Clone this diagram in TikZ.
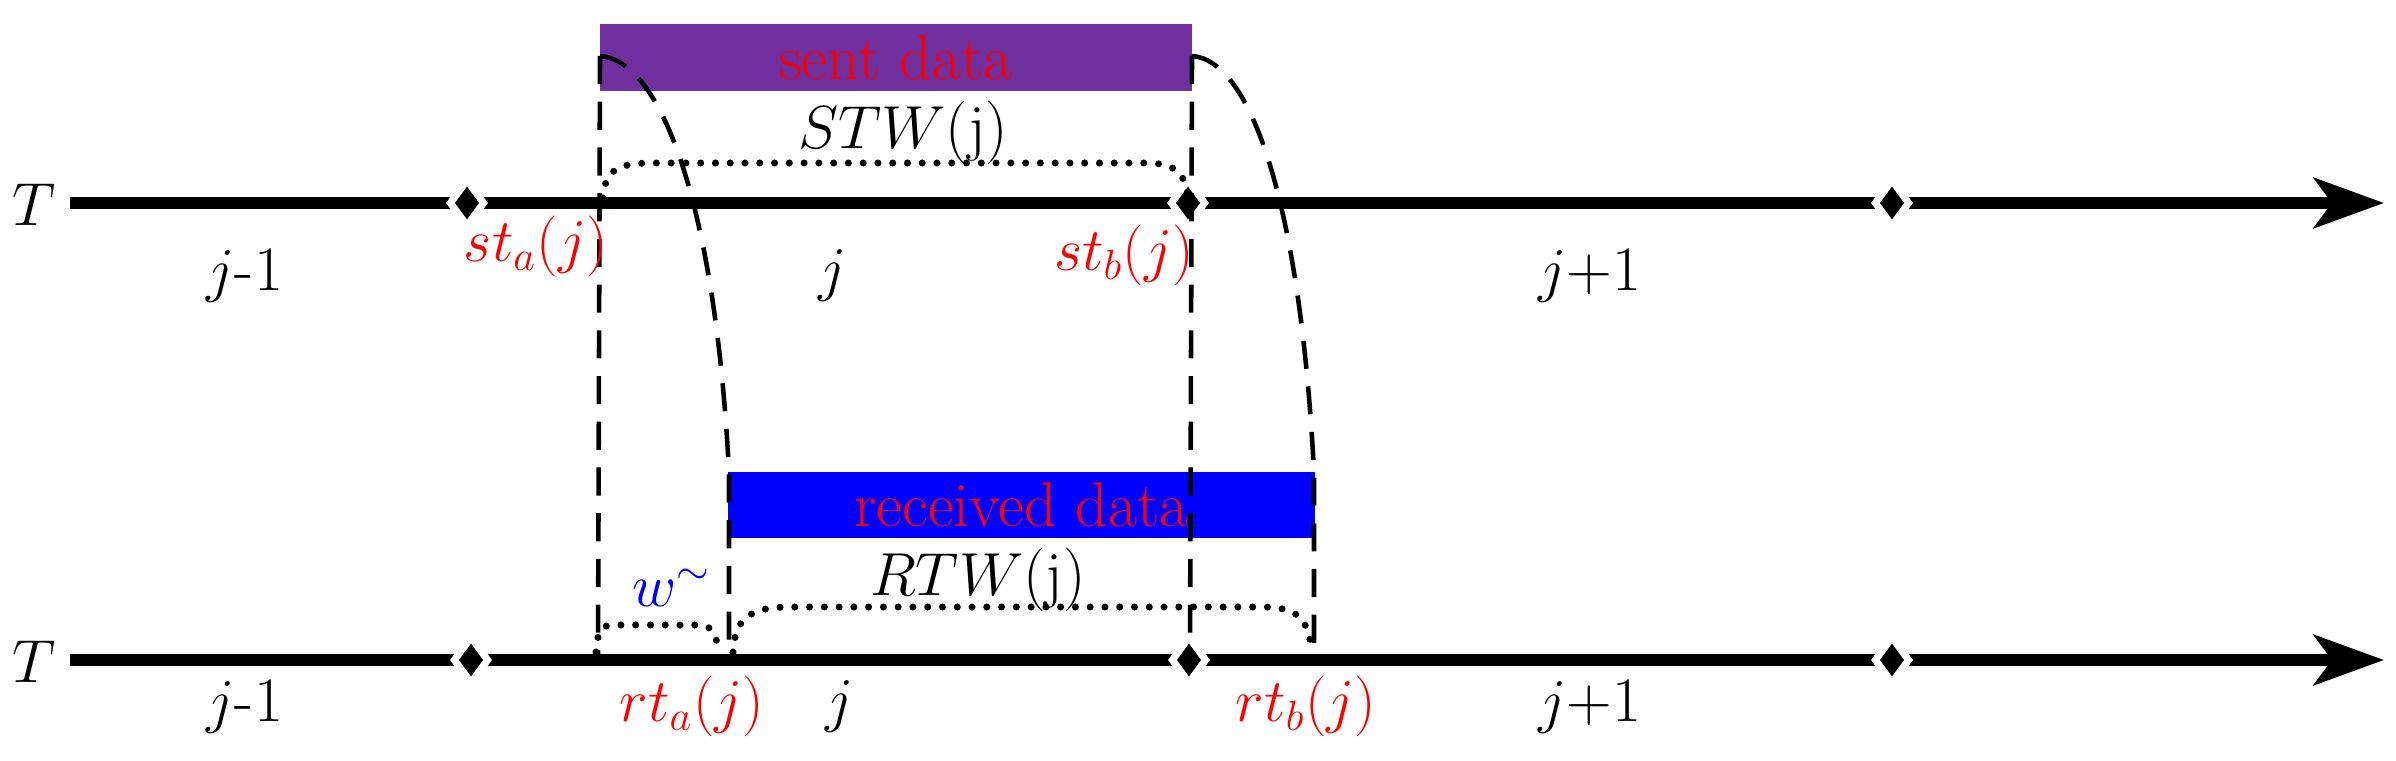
\documentclass[tikz,border=0pt]{standalone}
\usetikzlibrary{arrows.meta,shapes.geometric}
\begin{document}
\begin{tikzpicture}[x=0.01cm,y=-0.01cm,
  lbl/.style={font=\fontsize{18}{20}\selectfont},
  red lbl/.style={lbl,text=red},
  axis/.style={line width=0.12cm,-{Stealth[length=0.7cm,width=0.5cm,inset=0.18cm]}},
  dia/.style={diamond,fill=black,draw=white,line width=2pt,minimum width=0.36cm,minimum height=0.48cm,inner sep=0pt},
  dsh/.style={line width=1.3pt,dash pattern=on 8pt off 5pt},
  dts/.style={line width=2pt,line cap=round,dash pattern=on 0pt off 4.2pt}]
\useasboundingbox (0,0) rectangle (2396,761);
% bars
\node[fill={rgb,255:red,112;green,48;blue,160},minimum width=5.92cm,minimum height=0.67cm,inner sep=0pt] (sent) at (896,57.5) {};
\node[red lbl] (senttxt) at (sent) {sent data};
\node[fill=blue,minimum width=5.87cm,minimum height=0.66cm,inner sep=0pt] (recv) at (1021.5,505) {};
\node[red lbl] (recvtxt) at (recv) {received data};
% axes
\coordinate (a1s) at (70,203); \coordinate (a1e) at (2384,203);
\coordinate (a2s) at (70,660); \coordinate (a2e) at (2384,660);
\draw[axis] (a1s) -- (a1e);
\draw[axis] (a2s) -- (a2e);
\node[dia] (d1) at (467,203) {}; \node[dia] (d2) at (1188,203) {}; \node[dia] (d3) at (1892,203) {};
\node[dia] (e1) at (471,660) {}; \node[dia] (e2) at (1189,660) {}; \node[dia] (e3) at (1892,660) {};
% dashed
\coordinate (p1) at (600,56); \coordinate (p2) at (1192,56);
\coordinate (q1) at (598,660); \coordinate (q2) at (1190,660);
\coordinate (r1) at (729,472); \coordinate (r2) at (1314,472);
\coordinate (s1) at (729,660); \coordinate (s2) at (1314,660);
\draw[dsh] (p1) -- (q1);
\draw[dsh] (p2) -- (q2);
\draw[dsh] (p1) .. controls (660,60) and (715,200) .. (r1) -- (s1);
\draw[dsh] (p2) .. controls (1250,60) and (1300,200) .. (r2) -- (s2);
% braces
\draw[dts] (603,198) .. controls (605,168) and (620,163) .. (655,163) -- (1145,163) .. controls (1175,163) and (1185,172) .. (1188,198);
\draw[dts] (733,652) .. controls (735,618) and (750,607) .. (790,607) -- (1262,607) .. controls (1300,607) and (1308,620) .. (1312,652);
\draw[dts] (596,652) .. controls (598,630) and (600,625) .. (615,625) -- (700,625) .. controls (712,625) and (716,635) .. (719,652);
% labels
\node[lbl] (t1) at (34,205) {$T$};
\node[lbl] (t2) at (34,662) {$T$};
\node[lbl] (l1) at (245,275) {$j$-1};
\node[lbl] (l2) at (833,275) {$j$};
\node[lbl] (l3) at (1590,275) {$j$+1};
\node[lbl] (m1) at (245,706) {$j$-1};
\node[lbl] (m2) at (840,706) {$j$};
\node[lbl] (m3) at (1590,706) {$j$+1};
\node[red lbl] (sta) at (536,246) {$st_a(j)$};
\node[red lbl] (stb) at (1124,255) {$st_b(j)$};
\node[red lbl] (rta) at (692,706) {$rt_a(j)$};
\node[red lbl] (rtb) at (1306,706) {$rt_b(j)$};
\node[lbl] (stw) at (903,133) {$STW$(j)};
\node[lbl] (rtw) at (978,580) {$RTW$(j)};
\node[lbl,text=blue] (w) at (672,588) {$w^{\sim}$};
\end{tikzpicture}
\end{document}
